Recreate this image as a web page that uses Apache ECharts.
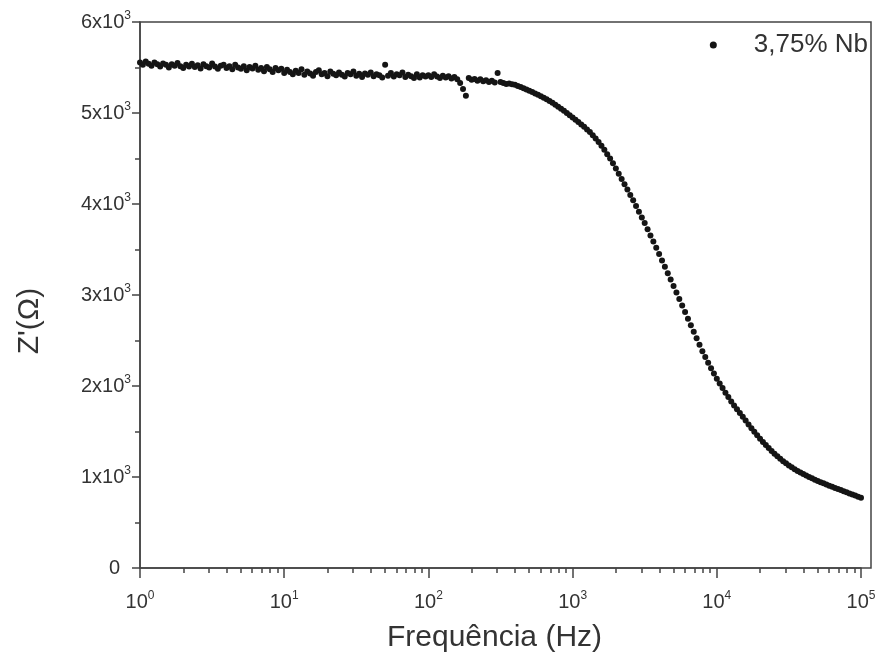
<!DOCTYPE html>
<html>
<head>
<meta charset="utf-8">
<script src="https://cdn.jsdelivr.net/npm/echarts@6/dist/echarts.min.js"></script>
<style>
  html, body { margin: 0; padding: 0; background: #fff; }
  #chart { width: 879px; height: 659px; }
</style>
</head>
<body>
<div id="chart"></div>
<script>
// Frequency sweep (Hz)
var freqHz = [
  1, 1.047, 1.096, 1.148, 1.202, 1.259, 1.318, 1.380, 1.445, 1.514, 1.585, 1.660, 1.738, 1.820, 1.905, 1.995, 2.089, 2.188, 2.291, 2.399,
  2.512, 2.630, 2.754, 2.884, 3.020, 3.162, 3.311, 3.467, 3.631, 3.802, 3.981, 4.169, 4.365, 4.571, 4.786, 5.012, 5.248, 5.495, 5.754, 6.026,
  6.310, 6.607, 6.918, 7.244, 7.586, 7.943, 8.318, 8.710, 9.120, 9.550,
  10, 10.47, 10.96, 11.48, 12.02, 12.59, 13.18, 13.80, 14.45, 15.14, 15.85, 16.60, 17.38, 18.20, 19.05, 19.95, 20.89, 21.88, 22.91, 23.99,
  25.12, 26.30, 27.54, 28.84, 30.20, 31.62, 33.11, 34.67, 36.31, 38.02, 39.81, 41.69, 43.65, 45.71, 47.86, 50.12, 52.48, 54.95, 57.54, 60.26,
  63.10, 66.07, 69.18, 72.44, 75.86, 79.43, 83.18, 87.10, 91.20, 95.50,
  100, 104.7, 109.6, 114.8, 120.2, 125.9, 131.8, 138.0, 144.5, 151.4, 158.5, 166.0, 173.8, 182.0, 190.5, 199.5, 208.9, 218.8, 229.1, 239.9,
  251.2, 263.0, 275.4, 288.4, 302.0, 316.2, 331.1, 346.7, 363.1, 380.2, 398.1, 416.9, 436.5, 457.1, 478.6, 501.2, 524.8, 549.5, 575.4, 602.6,
  631.0, 660.7, 691.8, 724.4, 758.6, 794.3, 831.8, 871.0, 912.0, 955.0,
  1000, 1047, 1096, 1148, 1202, 1259, 1318, 1380, 1445, 1514, 1585, 1660, 1738, 1820, 1905, 1995, 2089, 2188, 2291, 2399,
  2512, 2630, 2754, 2884, 3020, 3162, 3311, 3467, 3631, 3802, 3981, 4169, 4365, 4571, 4786, 5012, 5248, 5495, 5754, 6026,
  6310, 6607, 6918, 7244, 7586, 7943, 8318, 8710, 9120, 9550,
  10000, 10470, 10960, 11480, 12020, 12590, 13180, 13800, 14450, 15140, 15850, 16600, 17380, 18200, 19050, 19950, 20890, 21880, 22910, 23990,
  25120, 26300, 27540, 28840, 30200, 31620, 33110, 34670, 36310, 38020, 39810, 41690, 43650, 45710, 47860, 50120, 52480, 54950, 57540, 60260,
  63100, 66070, 69180, 72440, 75860, 79430, 83180, 87100, 91200, 95500,
  100000
];

// Z' (Ohm)
var zReal = [
  5555, 5530, 5565, 5540, 5520, 5555, 5535, 5510, 5545, 5530, 5500, 5535, 5520, 5550, 5515, 5495, 5530, 5510, 5540, 5505,
  5525, 5490, 5535, 5515, 5500, 5545, 5510, 5485, 5520, 5530, 5495, 5515, 5480, 5530, 5500, 5485, 5515, 5470, 5505, 5490,
  5520, 5475, 5495, 5460, 5505, 5480, 5450, 5495, 5470, 5485,
  5440, 5475, 5450, 5425, 5465, 5440, 5480, 5420, 5455, 5435, 5410, 5450, 5470, 5425, 5440, 5405, 5455, 5430, 5415, 5445,
  5420, 5400, 5440, 5425, 5455, 5410, 5430, 5395, 5435, 5420, 5445, 5405, 5425, 5415, 5390, 5530, 5410, 5440, 5400, 5425,
  5415, 5445, 5395, 5420, 5405, 5385, 5425, 5390, 5415, 5400,
  5415, 5395, 5425, 5400, 5385, 5410, 5390, 5405, 5380, 5395, 5370, 5330, 5265, 5190, 5385, 5365, 5375, 5355, 5370, 5350,
  5360, 5340, 5355, 5335, 5440, 5340, 5330, 5320, 5325, 5315, 5310, 5298, 5285, 5272, 5258, 5244, 5230, 5215, 5200, 5185,
  5168, 5150, 5132, 5113, 5092, 5070, 5048, 5024, 5000, 4975,
  4950, 4925, 4900, 4875, 4850, 4820, 4790, 4755, 4720, 4680, 4640, 4595, 4548, 4500, 4447, 4390, 4333, 4275, 4218, 4160,
  4100, 4040, 3978, 3915, 3852, 3790, 3723, 3655, 3588, 3520, 3450, 3380, 3310, 3240, 3170, 3100, 3028, 2956, 2884, 2812,
  2740, 2668, 2596, 2524, 2452, 2382, 2318, 2256, 2196, 2138,
  2080, 2028, 1977, 1927, 1878, 1830, 1787, 1745, 1703, 1661, 1620, 1578, 1537, 1497, 1458, 1420, 1385, 1351, 1318, 1286,
  1255, 1227, 1200, 1174, 1150, 1127, 1106, 1086, 1067, 1049, 1032, 1016, 1000, 985, 970, 956, 943, 930, 917, 904,
  892, 880, 868, 856, 844, 832, 820, 808, 796, 784,
  772
];

// minor ticks of the log axis
var minorTicksX = [
  2, 3, 4, 5, 6, 7, 8, 9,
  20, 30, 40, 50, 60, 70, 80, 90,
  200, 300, 400, 500, 600, 700, 800, 900,
  2000, 3000, 4000, 5000, 6000, 7000, 8000, 9000,
  20000, 30000, 40000, 50000, 60000, 70000, 80000, 90000
];

var seriesName = '3,75% Nb';
var xTitle = 'Frequência (Hz)';
var yTitle = "Z'(\u03A9)";

var points = [];
for (var i = 0; i < freqHz.length; i++) {
    points.push([freqHz[i], zReal[i]]);
}

var axisColor = '#444';
var textColor = '#333';
var fontFam = "Arial, 'Liberation Sans', sans-serif";

var myChart = echarts.init(document.getElementById('chart'));

var option = {
    backgroundColor: '#fff',
    animation: false,
    textStyle: { fontFamily: fontFam },
    legend: {
        right: 11,
        top: 32,
        padding: 0,
        itemWidth: 7,
        itemHeight: 7,
        textStyle: { fontSize: 26, color: textColor, fontFamily: fontFam, padding: [0, 0, 0, 32] },
        data: [{ name: seriesName, icon: 'circle' }]
    },
    grid: [
        { left: 140, top: 22, right: 18, bottom: 91, show: false },
        { left: 140, top: 22, right: 8, bottom: 91, show: true, borderColor: axisColor, borderWidth: 1.5, backgroundColor: 'transparent' }
    ],
    xAxis: [
        {
            type: 'log',
            logBase: 10,
            gridIndex: 0,
            min: 1,
            max: 100000,
            name: xTitle,
            nameLocation: 'middle',
            nameGap: 55,
            nameTextStyle: { fontSize: 30, color: textColor, fontFamily: fontFam, padding: [0, 12, 0, 0] },
            axisLine: { show: true, lineStyle: { color: axisColor, width: 1.5 } },
            axisTick: { show: true, length: 10, lineStyle: { color: axisColor, width: 1.5 } },
            axisLabel: {
                margin: 22,
                color: textColor,
                fontSize: 20,
                formatter: function (v) {
                    return '10{s|' + Math.round(Math.log10(v)) + '}';
                },
                rich: {
                    s: { fontSize: 12, verticalAlign: 'top', padding: [0, 0, 12, 0], color: textColor }
                }
            },
            splitLine: { show: false }
        },
        {
            type: 'log',
            logBase: 10,
            gridIndex: 0,
            min: 1,
            max: 100000,
            position: 'bottom',
            axisLine: { show: false },
            axisTick: { show: true, length: 5, customValues: minorTicksX, lineStyle: { color: axisColor, width: 1.5 } },
            axisLabel: { show: false },
            splitLine: { show: false }
        },
        { type: 'value', gridIndex: 1, show: false }
    ],
    yAxis: [
        {
            type: 'value',
            gridIndex: 0,
            min: 0,
            max: 6000,
            interval: 1000,
            name: yTitle,
            nameLocation: 'middle',
            nameGap: 95,
            nameRotate: 90,
            nameTextStyle: { fontSize: 30, color: textColor, fontFamily: fontFam, padding: [0, 52, 0, 0] },
            axisLine: { show: true, lineStyle: { color: axisColor, width: 1.5 } },
            axisTick: { show: true, length: 8, lineStyle: { color: axisColor, width: 1.5 } },
            minorTick: { show: true, splitNumber: 2, length: 5, lineStyle: { color: axisColor, width: 1.5 } },
            axisLabel: {
                margin: 9,
                color: textColor,
                fontSize: 20,
                formatter: function (v) {
                    if (v === 0) return '{z|0}';
                    return (v / 1000) + 'x10{s|3}';
                },
                rich: {
                    s: { fontSize: 12, verticalAlign: 'top', padding: [0, 0, 12, 0], color: textColor },
                    z: { fontSize: 20, padding: [0, 11, 0, 0], color: textColor }
                }
            },
            splitLine: { show: false }
        },
        { type: 'value', gridIndex: 1, show: false }
    ],
    series: [
        {
            name: seriesName,
            type: 'scatter',
            xAxisIndex: 0,
            yAxisIndex: 0,
            symbol: 'circle',
            symbolSize: 6,
            itemStyle: { color: '#151515', opacity: 1 },
            data: points
        }
    ]
};
myChart.setOption(option);
</script>
</body>
</html>
